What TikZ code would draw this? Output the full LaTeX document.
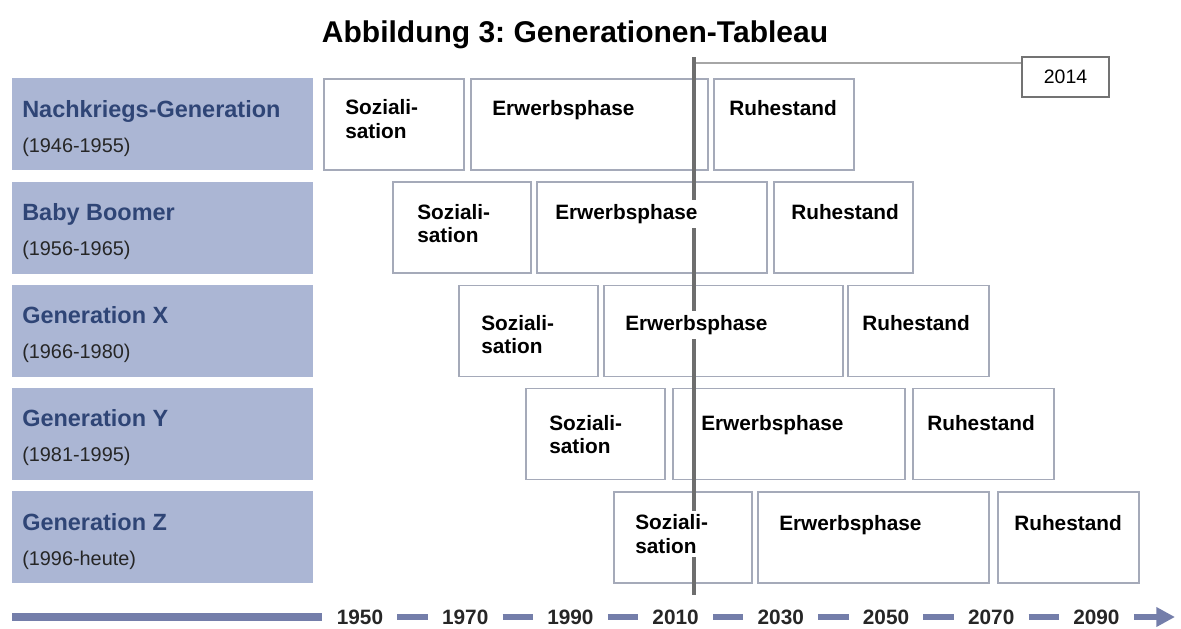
\documentclass[tikz,border=0pt]{standalone}
\usepackage{fontspec}
\setmainfont{Liberation Sans}
\usetikzlibrary{arrows.meta}
\frenchspacing

\definecolor{genfill}{RGB}{171,182,212}
\definecolor{gentext}{RGB}{47,69,118}
\definecolor{boxline}{RGB}{165,170,185}
\definecolor{axisblue}{RGB}{116,126,170}
\definecolor{nowgray}{RGB}{110,110,110}

\tikzset{
  title/.style={font=\fontsize{22.5}{26}\selectfont\bfseries, inner sep=0, anchor=base},
  genbox/.style={fill=genfill, minimum width=225.75pt, minimum height=69pt, anchor=north west, inner sep=0},
  genname/.style={font=\fontsize{17.6}{20}\selectfont\bfseries, text=gentext, anchor=base west, inner sep=0},
  genyears/.style={font=\fontsize{14.9}{17}\selectfont, text=black!85, anchor=base west, inner sep=0},
  phasebox/.style={draw=boxline, line width=1.2pt, fill=white, minimum height=68.25pt, anchor=north west, inner sep=0},
  phasetext/.style={font=\fontsize{15.6}{17.3}\selectfont\bfseries, fill=white, align=left, anchor=base west, inner sep=3pt},
  nowline/.style={draw=nowgray, line width=3pt},
  nowlink/.style={draw=black!35, line width=1.3pt},
  yearbox/.style={draw=black!55, line width=1.3pt, fill=white, minimum width=65.25pt, minimum height=30pt, font=\fontsize{14.6}{17}\selectfont, inner sep=0},
  axislabel/.style={font=\fontsize{15.6}{18}\selectfont\bfseries, text=black!85, inner sep=0},
  axisdash/.style={draw=axisblue, line width=5pt, shorten <=10.5pt, shorten >=10.5pt},
  axisbar/.style={draw=axisblue, line width=6pt, shorten >=11pt}
}

\begin{document}
\begin{tikzpicture}[x=0.75pt, y=-0.75pt]
  \useasboundingbox (0,0) rectangle (1181,628);
  \node[title] (title) at (575,42) {Abbildung 3: Generationen-Tableau};

  % generations on the left
  \foreach \r/\gen/\yrs in {1/Nachkriegs-Generation/{(1946-1955)}, 2/Baby Boomer/{(1956-1965)},
      3/Generation X/{(1966-1980)}, 4/Generation Y/{(1981-1995)}, 5/Generation Z/{(1996-heute)}} {
    \node[genbox] (gen\r) at (12, {78+103.25*(\r-1)}) {};
    \node[genname] (name\r) at ([shift={(10,39)}]gen\r.north west) {\gen};
    \node[genyears] (yrs\r) at ([shift={(10,74)}]gen\r.north west) {\yrs};
  }

  % phase boxes
  \foreach \r/\sa/\sb/\ea/\eb/\ra/\rb in {1/323/463/470/707/713/853, 2/392/530/536/766/773/912,
      3/458/597/603/842/847/988, 4/525/664/672/904/912/1053, 5/613/751/757/988/997/1138} {
    \pgfmathsetmacro{\rowtop}{78+103.25*(\r-1)}
    \node[phasebox, minimum width={(\sb-\sa)*0.75pt}] (soz\r) at (\sa,\rowtop) {};
    \node[phasebox, minimum width={(\eb-\ea)*0.75pt}] (erw\r) at (\ea,\rowtop) {};
    \node[phasebox, minimum width={(\rb-\ra)*0.75pt}] (ruh\r) at (\ra,\rowtop) {};
  }

  % today
  \coordinate (nowtop) at (694,57);
  \coordinate (nowbot) at (694,595);
  \draw[nowline] (nowtop) -- (nowbot);
  \node[yearbox] (now) at (1065.5,77) {2014};
  \coordinate (nowjoin) at (696,63);
  \draw[nowlink] (nowjoin) -- (nowjoin -| now.west);

  % phase texts (two-line text sits on its last line)
  \foreach \r/\off/\sx/\ex/\rx in {1/37/341/488/725, 2/38/413/551/787, 3/46/477/621/858,
      4/43/545/697/923, 5/39/631/775/1010} {
    \pgfmathsetmacro{\rowtop}{78+103.25*(\r-1)}
    \node[phasetext] (soztxt\r) at (\sx,\rowtop+\off+23) {Soziali-\\sation};
    \node[phasetext] (erwtxt\r) at (\ex,\rowtop+\off) {Erwerbsphase};
    \node[phasetext] (ruhtxt\r) at (\rx,\rowtop+\off) {Ruhestand};
  }

  % time axis
  \foreach \yr [count=\i from 0] in {1950,1970,...,2090}
    \node[axislabel] (y\yr) at ({360+105.2*\i},617) {\yr};
  \foreach \a/\b in {1950/1970, 1970/1990, 1990/2010, 2010/2030, 2030/2050, 2050/2070, 2070/2090}
    \draw[axisdash] (y\a.east) -- (y\b.west);
  \coordinate (axisstart) at (12,617);
  \coordinate (axisend) at (1175,617);
  \draw[axisbar] (axisstart) -- (y1950.west);
  \draw[axisdash, shorten >=0pt, -{Triangle[length=14pt, width=14pt]}] (y2090.east) -- (axisend);
\end{tikzpicture}
\end{document}
